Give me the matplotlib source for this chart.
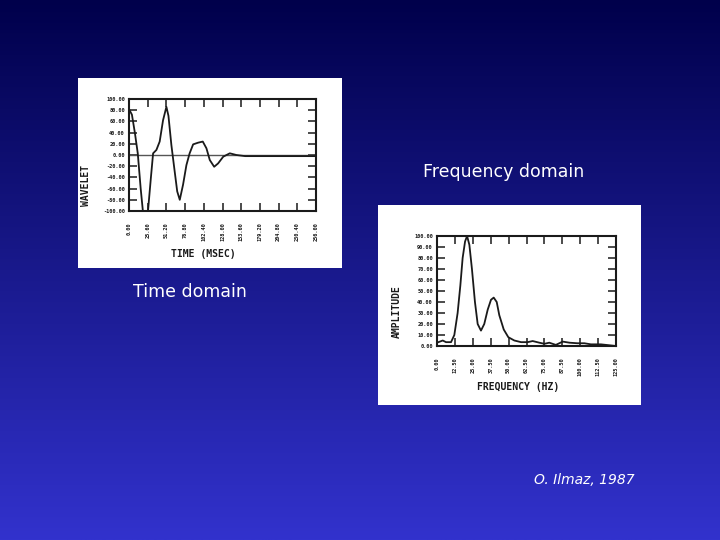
import numpy as np
import matplotlib
matplotlib.use('agg')
import matplotlib.pyplot as plt
from matplotlib.patches import Rectangle

# wavelet
time_ms = [0, 4, 8, 12, 16, 19, 23, 26, 30, 33, 37.5, 42, 46.6, 51.2, 54, 58,
           62.6, 66, 69.5, 74, 78.6, 83, 87.8, 94.6, 101, 106, 110.6, 116.6,
           122, 129, 138, 147, 159, 180, 210, 256]
wavelet = [82, 72, 40, 3, -60, -100, -100, -100, -40, 3, 9, 24, 62, 86, 70, 18,
           -30, -65, -80, -53, -18, 3, 19, 22, 24, 12, -9, -21,
           -15, -3, 3, 0, -2, -2, -2, -2]

# amplitude spectrum
freq_hz = [0, 4, 6.3, 9.8, 12.1, 14.4, 16.3, 17.9, 19.6, 21, 22.6, 24.4, 26.5,
           28.4, 30.7, 33, 35.4, 37.7, 39.6, 41.7, 43.5, 46.6, 49.8, 54, 58.7,
           63.3, 66.8, 71.5, 75, 78.4, 83, 87.8, 92.5, 98, 102.9, 107.5, 114.5,
           121.5, 125]
amplitude = [3, 5, 3.5, 3.5, 10, 30, 55, 80, 95, 100, 92, 70, 40,
             20, 14, 20, 33, 42, 44, 40, 28, 15, 8, 5, 3.5,
             3.5, 4.5, 3, 2, 3, 1, 4, 3, 2.5, 2.5, 1.5, 1.5,
             0.5, 0]

time_ticks = [0, 25.6, 51.2, 76.8, 102.4, 128, 153.6, 179.2, 204.8, 230.4, 256]
wavelet_ticks = [100, 80, 60, 40, 20, 0, -20, -40, -60, -80, -100]
freq_ticks = [0, 12.5, 25, 37.5, 50, 62.5, 75, 87.5, 100, 112.5, 125]
amp_ticks = [100, 90, 80, 70, 60, 50, 40, 30, 20, 10, 0]

W, H = 720, 540
fig = plt.figure(figsize=(7.2, 5.4), dpi=100)


def box(x0, y0, x1, y1):
    # pixel box (top-left origin) -> figure fraction rect
    return [x0 / W, 1 - y1 / H, (x1 - x0) / W, (y1 - y0) / H]


# blue gradient background
bg = fig.add_axes([0, 0, 1, 1], zorder=-2)
g = np.linspace(0, 1, 256)[:, None]
top = np.array([0, 0, 75]) / 255
bot = np.array([50, 50, 205]) / 255
grad = (top + (bot - top) * g)[:, None, :].repeat(2, axis=1)
bg.imshow(grad, aspect='auto', extent=[0, 1, 0, 1])
bg.axis('off')

# white scanned panels
for x0, y0, x1, y1 in [(78, 78, 342, 268), (378, 205, 641, 405)]:
    fig.patches.append(Rectangle((x0 / W, 1 - y1 / H), (x1 - x0) / W, (y1 - y0) / H,
                                 transform=fig.transFigure, facecolor='white',
                                 edgecolor='none', zorder=-1))

mono = dict(family='DejaVu Sans Mono', color='#1a1a1a')


def style(ax, xt, yt):
    ax.set_xticks(xt)
    ax.set_yticks(yt)
    ax.set_xticklabels(['%.2f' % v for v in xt], rotation=90, fontsize=3.8,
                       fontweight='bold', **mono)
    ax.set_yticklabels(['%.2f' % v for v in yt], fontsize=3.8,
                       fontweight='bold', **mono)
    ax.tick_params(direction='in', length=6, width=1.1, top=True, right=True,
                   color='#1a1a1a', pad=8)
    ax.tick_params(axis='y', pad=3)
    for s in ax.spines.values():
        s.set_linewidth(1.5)
        s.set_color('#1a1a1a')
    ax.set_facecolor('white')


# time domain
ax1 = fig.add_axes(box(129, 99, 316, 211))
ax1.axhline(0, color='#555555', lw=1)
ax1.plot(time_ms, wavelet, color='#1a1a1a', lw=1.3)
ax1.set_xlim(0, 256)
ax1.set_ylim(-100, 100)
style(ax1, time_ticks, wavelet_ticks)
fig.text(203 / W, 1 - 254 / H, 'TIME (MSEC)', ha='center', va='center',
         fontsize=7, fontweight='bold', **mono)
fig.text(86 / W, 1 - 185 / H, 'WAVELET', ha='center', va='center',
         rotation=90, fontsize=7, fontweight='bold', **mono)

# frequency domain
ax2 = fig.add_axes(box(437, 236, 616, 346))
ax2.plot(freq_hz, amplitude, color='#1a1a1a', lw=1.3)
ax2.set_xlim(0, 125)
ax2.set_ylim(0, 100)
style(ax2, freq_ticks, amp_ticks)
fig.text(518 / W, 1 - 387 / H, 'FREQUENCY (HZ)', ha='center', va='center',
         fontsize=7, fontweight='bold', **mono)
fig.text(397 / W, 1 - 312 / H, 'AMPLITUDE', ha='center', va='center',
         rotation=90, fontsize=7, fontweight='bold', **mono)

# slide captions
fig.text(504 / W, 1 - 172 / H, 'Frequency domain', ha='center', va='center',
         fontsize=12.5, color='white')
fig.text(190 / W, 1 - 292 / H, 'Time domain', ha='center', va='center',
         fontsize=12.5, color='white')
fig.text(584 / W, 1 - 480 / H, 'O. Ilmaz, 1987', ha='center', va='center',
         fontsize=10, style='italic', color='white')

fig.savefig('out.png', dpi=100)
